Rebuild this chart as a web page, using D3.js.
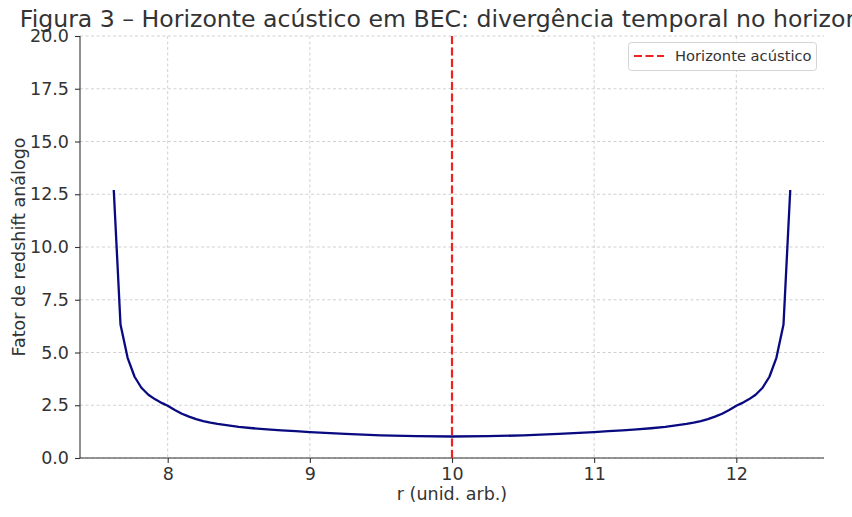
<!DOCTYPE html>
<html>
<head>
<meta charset="utf-8">
<script src="https://cdn.jsdelivr.net/npm/d3@7"></script>
<style>
  html, body { margin: 0; padding: 0; background: #fff; }
  svg { display: block; font-family: "DejaVu Sans", sans-serif; }
</style>
</head>
<body>
<svg id="chart" width="852" height="517"></svg>
<script>
// ---- data ----
const rValues = [
  7.621, 7.668, 7.718, 7.767, 7.815, 7.864, 7.912, 7.961, 8.0, 8.05, 8.1, 8.15, 8.2, 8.25, 8.3, 8.35, 8.4, 8.5, 8.6, 8.7, 8.8, 8.9, 9.0, 9.25, 9.5, 9.75,
  10.0,
  10.25, 10.5, 10.75, 11.0, 11.1, 11.2, 11.3, 11.4, 11.5, 11.6, 11.65, 11.7, 11.75, 11.8, 11.85, 11.9, 11.95, 12.0, 12.039, 12.088, 12.136, 12.185, 12.233, 12.282, 12.332, 12.379
];
const redshift = [
  12.65, 6.33, 4.75, 3.85, 3.33, 3.00, 2.78, 2.60, 2.48, 2.28, 2.10, 1.96, 1.84, 1.75, 1.68, 1.62, 1.57, 1.48, 1.41, 1.355, 1.31, 1.27, 1.23, 1.14, 1.07, 1.033,
  1.02,
  1.033, 1.07, 1.14, 1.23, 1.27, 1.31, 1.355, 1.41, 1.48, 1.57, 1.62, 1.68, 1.75, 1.84, 1.96, 2.10, 2.28, 2.48, 2.60, 2.78, 3.00, 3.33, 3.85, 4.75, 6.33, 12.65
];
const horizonR = 10;
const xTicks = [8, 9, 10, 11, 12];
const yTicks = [0, 2.5, 5, 7.5, 10, 12.5, 15, 17.5, 20];
const titleText = "Figura 3 – Horizonte acústico em BEC: divergência temporal no horizonte";
const xLabel = "r (unid. arb.)";
const yLabel = "Fator de redshift análogo";
const legendLabel = "Horizonte acústico";

// ---- layout ----
const W = 852, H = 517;
const m = { left: 80, right: 28, top: 36, bottom: 59 };
const pw = W - m.left - m.right, ph = H - m.top - m.bottom;
const textColor = "#333333";

const svg = d3.select("#chart");
const ext = d3.extent(rValues);
const pad = (ext[1] - ext[0]) * 0.05;
const x = d3.scaleLinear().domain([ext[0] - pad, ext[1] + pad]).range([m.left, m.left + pw]);
const y = d3.scaleLinear().domain([0, 20]).range([m.top + ph, m.top]);

// grid
const grid = svg.append("g");
grid.selectAll(".gx").data(xTicks).join("line")
  .attr("x1", d => x(d)).attr("x2", d => x(d))
  .attr("y1", m.top).attr("y2", m.top + ph)
  .attr("stroke", "#cccccc").attr("stroke-width", 0.9).attr("stroke-dasharray", "3,2.5");
grid.selectAll(".gy").data(yTicks).join("line")
  .attr("x1", m.left).attr("x2", m.left + pw)
  .attr("y1", d => y(d)).attr("y2", d => y(d))
  .attr("stroke", "#cccccc").attr("stroke-width", 0.9).attr("stroke-dasharray", "3,2.5");

// axes
const xAxis = svg.append("g").attr("transform", `translate(0,${m.top + ph})`)
  .call(d3.axisBottom(x).tickValues(xTicks).tickFormat(d3.format("d")).tickSize(5).tickPadding(5));
const yAxis = svg.append("g").attr("transform", `translate(${m.left},0)`)
  .call(d3.axisLeft(y).tickValues(yTicks).tickFormat(d3.format(".1f")).tickSize(5).tickPadding(6));
[xAxis, yAxis].forEach(a => {
  a.select(".domain").attr("stroke", textColor).attr("stroke-width", 1.1);
  a.selectAll(".tick line").attr("stroke", textColor).attr("stroke-width", 1.1);
  a.selectAll(".tick text").attr("fill", textColor).style("font-size", "17.5px")
    .style("font-family", "DejaVu Sans, sans-serif");
});
xAxis.select(".domain").attr("d", `M${m.left},0H${m.left + pw}`);
yAxis.select(".domain").attr("d", `M0,${m.top + ph}V${m.top}`);

// curve
const line = d3.line().x((d, i) => x(rValues[i])).y(d => y(d));
svg.append("path").datum(redshift)
  .attr("d", line).attr("fill", "none")
  .attr("stroke", "#0a0a80").attr("stroke-width", 2.3)
  .attr("stroke-linejoin", "round").attr("stroke-linecap", "square");

// horizon line
svg.append("line")
  .attr("x1", x(horizonR)).attr("x2", x(horizonR))
  .attr("y1", m.top).attr("y2", m.top + ph)
  .attr("stroke", "#ee2222").attr("stroke-width", 2.2).attr("stroke-dasharray", "8,3.5");

// legend
const lg = svg.append("g");
lg.append("rect").attr("x", 628.5).attr("y", 42.5).attr("width", 188).attr("height", 28)
  .attr("rx", 3).attr("fill", "#ffffff").attr("fill-opacity", 0.85)
  .attr("stroke", "#d5d5d5").attr("stroke-width", 1);
lg.append("line").attr("x1", 634).attr("x2", 664).attr("y1", 56).attr("y2", 56)
  .attr("stroke", "#ee2222").attr("stroke-width", 2.2).attr("stroke-dasharray", "8,3.5");
lg.append("text").attr("x", 675).attr("y", 61).text(legendLabel)
  .attr("fill", textColor).style("font-size", "14.7px");

// labels
svg.append("text").attr("x", m.left + pw / 2).attr("y", 500).attr("text-anchor", "middle")
  .attr("fill", textColor).style("font-size", "17.5px").text(xLabel);
svg.append("text").attr("transform", `translate(25,${m.top + ph / 2}) rotate(-90)`)
  .attr("text-anchor", "middle").attr("fill", textColor).style("font-size", "17.5px").text(yLabel);
svg.append("text").attr("x", m.left + pw / 2).attr("y", 27).attr("text-anchor", "middle")
  .attr("fill", textColor).style("font-size", "23.6px").text(titleText);
</script>
</body>
</html>
